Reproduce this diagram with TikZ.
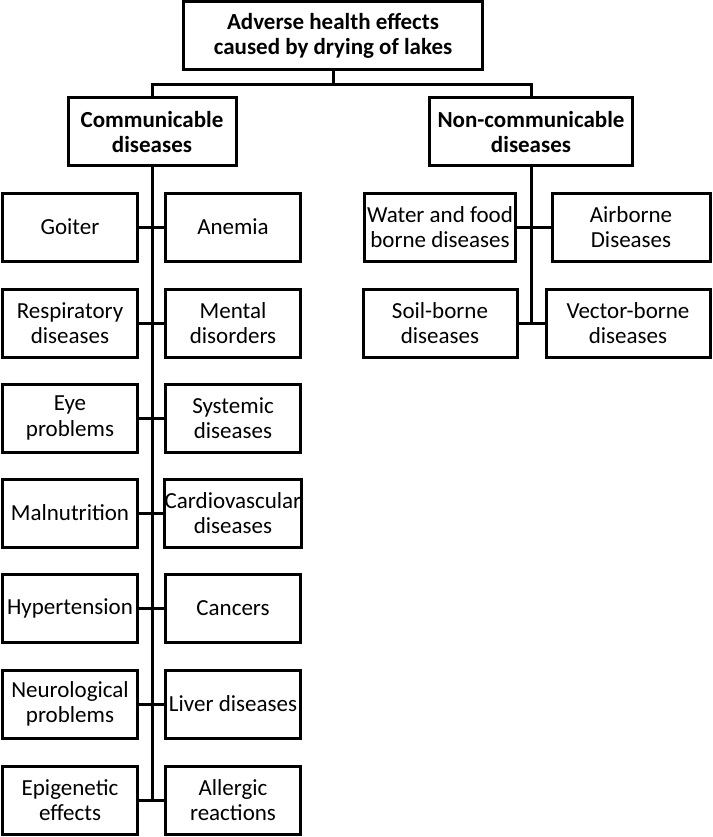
\documentclass[tikz,border=0pt]{standalone}
\usepackage{fontspec}
\setmainfont{Carlito}
\usetikzlibrary{positioning}

\begin{document}
\begin{tikzpicture} [
	x=1pt,y=-1pt,
	line width=3pt,
	box/.style={
		rectangle,draw=black,fill=white,line width=3pt,
		inner sep=0pt,align=center,
		font=\fontsize{23}{25.5}\selectfont,
		minimum width=135pt,minimum height=68pt},
	head/.style={
		box,font=\fontsize{23}{25.5}\selectfont\bfseries},
	link/.style={
		draw,line width=3pt}]
\useasboundingbox (0,0) rectangle (712,837);
% top levels
\node [head,minimum width=299pt]	(effects) at (333,36)	{Adverse health effects\\caused by drying of lakes};
\node [head,minimum width=168pt]	(comm) at (152,132)	{Communicable\\diseases};
\node [head,minimum width=203pt]	(noncomm) at (531,132)	{Non-communicable\\diseases};
\coordinate (split) at (333,85);
\draw[link] (effects.south) -- (split);
\draw[link] (comm.north) |- (split) -| (noncomm.north);
% communicable
\node [box]	(goiter) at (70,227)	{Goiter};
\node [box]	(anemia) at (233,227)	{Anemia};
\node [box]	(resp) at (70,323)	{Respiratory\\diseases};
\node [box]	(mental) at (233,323)	{Mental\\disorders};
\node [box]	(eye) at (70,418)	{Eye\\problems};
\node [box]	(systemic) at (233,418)	{Systemic\\diseases};
\node [box]	(malnut) at (70,513)	{Malnutrition};
\node [box]	(cardio) at (233,513)	{Cardiovascular\\diseases};
\node [box]	(hyper) at (70,608)	{Hypertension};
\node [box]	(cancers) at (233,608)	{Cancers};
\node [box]	(neuro) at (70,704)	{Neurological\\problems};
\node [box]	(liver) at (233,704)	{Liver diseases};
\node [box]	(epi) at (70,800)	{Epigenetic\\effects};
\node [box]	(allergic) at (233,800)	{Allergic\\reactions};
\draw[link] (comm.south) -- (comm.south |- epi.east);
\draw[link] (goiter.east) -- (anemia.west);
\draw[link] (resp.east) -- (mental.west);
\draw[link] (eye.east) -- (systemic.west);
\draw[link] (malnut.east) -- (cardio.west);
\draw[link] (hyper.east) -- (cancers.west);
\draw[link] (neuro.east) -- (liver.west);
\draw[link] (epi.east) -- (allergic.west);
% non-communicable
\node [box,minimum width=151pt]	(water) at (440,227)	{Water and food\\borne diseases};
\node [box,minimum width=158pt]	(air) at (631,227)	{Airborne\\Diseases};
\node [box,minimum width=154pt]	(soil) at (440,323)	{Soil-borne\\diseases};
\node [box,minimum width=164pt]	(vector) at (628,323)	{Vector-borne\\diseases};
\draw[link] (noncomm.south) -- (noncomm.south |- soil.east);
\draw[link] (water.east) -- (air.west);
\draw[link] (soil.east) -- (vector.west);
\end{tikzpicture}
\end{document}
